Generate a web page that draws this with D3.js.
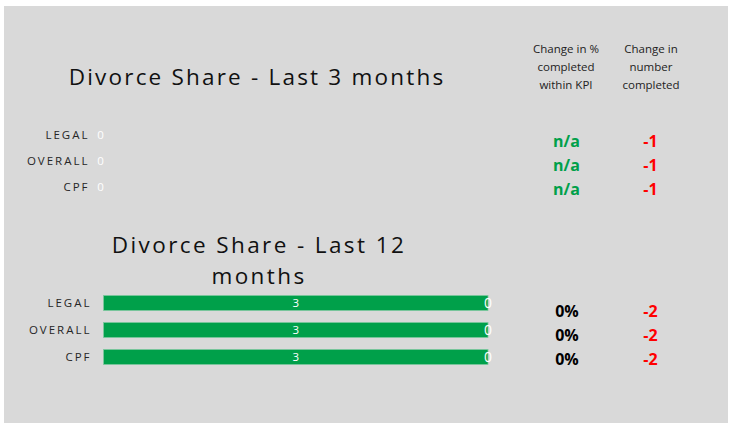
<!DOCTYPE html>
<html>
<head>
<meta charset="utf-8">
<script src="https://cdn.jsdelivr.net/npm/d3@7"></script>
<style>
    body { margin: 0; background: #ffffff; }
    svg { display: block; font-family: "Open Sans", "Noto Sans", sans-serif; }
</style>
</head>
<body>
<div id="chart"></div>
<script>
var categories = ["LEGAL", "OVERALL", "CPF"];
var last3Values = [0, 0, 0];
var last12Values = [3, 3, 3];
var last12Rest = [0, 0, 0];
var kpiChange3 = ["n/a", "n/a", "n/a"];
var numChange3 = ["-1", "-1", "-1"];
var kpiChange12 = ["0%", "0%", "0%"];
var numChange12 = ["-2", "-2", "-2"];
var headerKpi = ["Change in %", "completed", "within KPI"];
var headerNum = ["Change in", "number", "completed"];

var width = 729, height = 426;
var green = "#00a04a";

var svg = d3.select("#chart").append("svg")
    .attr("width", width)
    .attr("height", height);

svg.append("rect")
    .attr("x", 4).attr("y", 6)
    .attr("width", 724).attr("height", 417)
    .attr("fill", "#d9d9d9");

// titles
svg.append("text")
    .attr("x", 257).attr("y", 85)
    .attr("text-anchor", "middle")
    .style("font-size", "22.5px")
    .style("letter-spacing", "2.2px")
    .attr("fill", "#111")
    .text("Divorce Share - Last 3 months");

var t2 = svg.append("text")
    .attr("text-anchor", "middle")
    .style("font-size", "22.5px")
    .style("letter-spacing", "2.4px")
    .attr("fill", "#111");
t2.append("tspan").attr("x", 259).attr("y", 253).text("Divorce Share - Last 12");
t2.append("tspan").attr("x", 259).attr("y", 284).text("months");

// column headers
function header(lines, cx) {
    var t = svg.append("text")
        .attr("text-anchor", "middle")
        .style("font-size", "11.5px")
        .attr("fill", "#222");
    t.selectAll("tspan").data(lines).enter().append("tspan")
        .attr("x", cx)
        .attr("y", function(d, i) { return 53 + i * 18; })
        .text(function(d) { return d; });
}
header(headerKpi, 566);
header(headerNum, 651);

// ---- top chart (last 3 months)
var xTop = d3.scaleLinear().domain([0, 3]).range([100.5, 488]);
var yTop = d3.scaleBand().domain(categories).range([122, 200]);

var topG = svg.append("g");
topG.append("g")
    .attr("transform", "translate(" + (xTop(0) - 11) + ",0)")
    .call(d3.axisLeft(yTop).tickSize(0).tickPadding(0))
    .call(function(g) { g.select(".domain").remove(); })
    .selectAll("text")
    .style("font-family", "Open Sans, sans-serif")
    .style("font-size", "11.5px")
    .style("letter-spacing", "2px")
    .attr("fill", "#262626");

topG.selectAll(".v")
    .data(last3Values)
    .enter().append("text")
    .attr("x", function(d) { return xTop(0) + (xTop(d) - xTop(0)) / 2; })
    .attr("y", function(d, i) { return yTop(categories[i]) + yTop.bandwidth() / 2 + 4; })
    .attr("text-anchor", "middle")
    .style("font-size", "11.5px")
    .attr("fill", "#ffffff")
    .text(function(d) { return d; });

// ---- bottom chart (last 12 months)
var xBot = d3.scaleLinear().domain([0, 3]).range([103.5, 488]);
var yBot = d3.scaleBand().domain(categories).range([289.5, 370.5])
    .paddingInner(0.44).paddingOuter(0.22);

var botG = svg.append("g");
botG.append("g")
    .attr("transform", "translate(" + (xBot(0) - 12) + ",0)")
    .call(d3.axisLeft(yBot).tickSize(0).tickPadding(0))
    .call(function(g) { g.select(".domain").remove(); })
    .selectAll("text")
    .style("font-family", "Open Sans, sans-serif")
    .style("font-size", "11.5px")
    .style("letter-spacing", "2px")
    .attr("fill", "#262626");

botG.selectAll(".bar")
    .data(last12Values)
    .enter().append("rect")
    .attr("x", xBot(0))
    .attr("y", function(d, i) { return yBot(categories[i]); })
    .attr("width", function(d) { return xBot(d) - xBot(0); })
    .attr("height", yBot.bandwidth())
    .attr("fill", green)
    .attr("stroke", "#7fc9a0")
    .attr("stroke-width", 0.8);

botG.selectAll(".lbl")
    .data(last12Values)
    .enter().append("text")
    .attr("x", function(d) { return (xBot(0) + xBot(d)) / 2; })
    .attr("y", function(d, i) { return yBot(categories[i]) + yBot.bandwidth() / 2 + 4; })
    .attr("text-anchor", "middle")
    .style("font-size", "11.5px")
    .attr("fill", "#ffffff")
    .text(function(d) { return d; });

botG.selectAll(".rest")
    .data(last12Rest)
    .enter().append("text")
    .attr("x", function(d, i) { return xBot(last12Values[i] + d / 2); })
    .attr("y", function(d, i) { return yBot(categories[i]) + yBot.bandwidth() / 2 + 5; })
    .attr("text-anchor", "middle")
    .style("font-size", "14px")
    .attr("fill", "#ffffff")
    .text(function(d) { return d; });

// ---- change tables
var yTab3 = d3.scalePoint().domain(categories).range([141, 189]);
var yTab12 = d3.scalePoint().domain(categories).range([310.5, 358.5]);

function column(values, y, cx, color) {
    svg.append("g").selectAll("text")
        .data(values)
        .enter().append("text")
        .attr("x", cx)
        .attr("y", function(d, i) { return y(categories[i]) + 6; })
        .attr("text-anchor", "middle")
        .style("font-size", "16px")
        .style("font-weight", "bold")
        .attr("fill", color)
        .text(function(d) { return d; });
}
column(kpiChange3, yTab3, 566.5, "#00a04a");
column(numChange3, yTab3, 650.5, "#ff0000");
column(kpiChange12, yTab12, 567, "#000000");
column(numChange12, yTab12, 650.5, "#ff0000");
</script>
</body>
</html>
